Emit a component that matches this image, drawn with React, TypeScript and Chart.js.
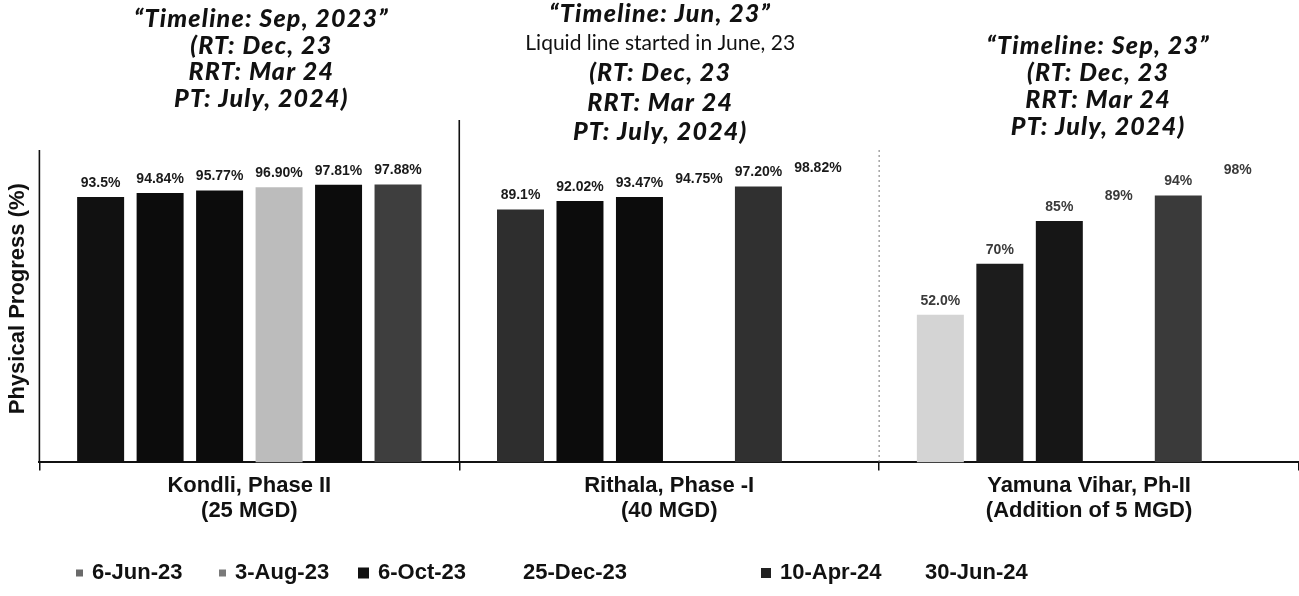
import React, { useEffect, useRef } from "react";
import { Chart, registerables } from "chart.js";

Chart.register(...registerables);

// ---------- data ----------
const CATEGORIES: string[][] = [
  ["Kondli, Phase II", "(25 MGD)"],
  ["Rithala, Phase -I", "(40 MGD)"],
  ["Yamuna Vihar, Ph-II", "(Addition of 5 MGD)"],
];
const SERIES_NAMES = ["6-Jun-23", "3-Aug-23", "6-Oct-23", "25-Dec-23", "10-Apr-24", "30-Jun-24"];

const JUN_23 = [93.5, 89.1, 52.0];
const AUG_23 = [94.84, 92.02, 70];
const OCT_23 = [95.77, 93.47, 85];
const DEC_23 = [96.9, 94.75, 89];
const APR_24 = [97.81, 97.2, 94];
const JUN_24 = [97.88, 98.82, 98];
const SERIES_VALUES = [JUN_23, AUG_23, OCT_23, DEC_23, APR_24, JUN_24];

const LABELS_JUN_23 = ["93.5%", "89.1%", "52.0%"];
const LABELS_AUG_23 = ["94.84%", "92.02%", "70%"];
const LABELS_OCT_23 = ["95.77%", "93.47%", "85%"];
const LABELS_DEC_23 = ["96.90%", "94.75%", "89%"];
const LABELS_APR_24 = ["97.81%", "97.20%", "94%"];
const LABELS_JUN_24 = ["97.88%", "98.82%", "98%"];
const VALUE_LABELS = [LABELS_JUN_23, LABELS_AUG_23, LABELS_OCT_23, LABELS_DEC_23, LABELS_APR_24, LABELS_JUN_24];

const TITLE_KONDLI = ["\u201CTimeline: Sep, 2023\u201D", "(RT: Dec, 23", "RRT: Mar 24", "PT: July, 2024)"];
const TITLE_RITHALA = ["\u201CTimeline: Jun, 23\u201D", "Liquid line started in June, 23", "(RT: Dec, 23", "RRT: Mar 24", "PT: July, 2024)"];
const TITLE_YAMUNA = ["\u201CTimeline: Sep, 23\u201D", "(RT: Dec, 23", "RRT: Mar 24", "PT: July, 2024)"];
const TITLES = [TITLE_KONDLI, TITLE_RITHALA, TITLE_YAMUNA];
const PLAIN_TITLE_LINE = "Liquid line started in June, 23";

const Y_TITLE = "Physical Progress (%)";

// ---------- styles ----------
const CLEAR = "rgba(0,0,0,0)";
const BAR_COLORS = [
  ["#111111", "#2e2e2e", "#d4d4d4"],
  ["#0c0c0c", "#0c0c0c", "#1c1c1c"],
  ["#0c0c0c", "#0c0c0c", "#161616"],
  ["#bcbcbc", CLEAR, CLEAR],
  ["#0c0c0c", "#303030", "#3a3a3a"],
  ["#3e3e3e", CLEAR, CLEAR],
];
const LEGEND_MARKERS = [
  { size: 7, color: "#6a6a6a" },
  { size: 7, color: "#7a7a7a" },
  { size: 11, color: "#111111" },
  { size: 0, color: CLEAR },
  { size: 10, color: "#222222" },
  { size: 0, color: CLEAR },
];
const LEGEND_TEXT_X = [92, 235, 378, 523, 780, 925];
const TITLE_LAYOUT = [
  { dx: 12, y0: 19, step: 26.5 },
  { dx: -9, y0: 14, step: 29.5 },
  { dx: 9, y0: 46, step: 27 },
];

const annotate = {
  id: "annotate",
  afterDraw(chart: any) {
    const ctx = chart.ctx as CanvasRenderingContext2D & { letterSpacing?: string };
    const xs = chart.scales.x;
    const { top, bottom, left, right } = chart.chartArea;
    const n = CATEGORIES.length;
    const cw = (right - left) / n;
    ctx.save();

    // separators / left axis line
    ctx.strokeStyle = "#111";
    ctx.lineWidth = 1.6;
    ctx.beginPath();
    ctx.moveTo(left, top + 15);
    ctx.lineTo(left, bottom);
    ctx.moveTo(left + cw, top - 15);
    ctx.lineTo(left + cw, bottom);
    ctx.stroke();
    ctx.strokeStyle = "#777";
    ctx.lineWidth = 1;
    ctx.setLineDash([2, 3]);
    ctx.beginPath();
    ctx.moveTo(left + 2 * cw, top + 15);
    ctx.lineTo(left + 2 * cw, bottom);
    ctx.stroke();
    ctx.setLineDash([]);

    // value labels
    ctx.font = "bold 14px 'Liberation Sans', Arial, sans-serif";
    ctx.textAlign = "center";
    ctx.textBaseline = "alphabetic";
    chart.data.datasets.forEach((_ds: any, di: number) => {
      const meta = chart.getDatasetMeta(di);
      meta.data.forEach((bar: any, i: number) => {
        ctx.fillStyle = i === 2 ? "#3a3a3a" : "#1a1a1a";
        ctx.fillText(VALUE_LABELS[di][i], bar.x, bar.y - 10);
      });
    });

    // block titles
    ctx.fillStyle = "#111";
    ctx.textBaseline = "middle";
    TITLES.forEach((lines, ci) => {
      const lay = TITLE_LAYOUT[ci];
      const cx = xs.getPixelForValue(ci) + lay.dx;
      lines.forEach((line, li) => {
        if (line === PLAIN_TITLE_LINE) {
          ctx.font = "21px Lato, 'Open Sans', sans-serif";
          ctx.letterSpacing = "0px";
        } else {
          ctx.font = "italic 900 25px Lato, 'Open Sans', sans-serif";
          ctx.letterSpacing = "1.2px";
        }
        ctx.fillText(line, cx, lay.y0 + li * lay.step);
      });
    });
    ctx.letterSpacing = "0px";

    // legend
    ctx.font = "bold 22px 'Liberation Sans', Arial, sans-serif";
    ctx.textAlign = "left";
    ctx.textBaseline = "middle";
    const ly = 573;
    SERIES_NAMES.forEach((name, si) => {
      const m = LEGEND_MARKERS[si];
      const tx = LEGEND_TEXT_X[si];
      if (m.size > 0) {
        ctx.fillStyle = m.color;
        ctx.fillRect(tx - 9 - m.size, ly - m.size / 2, m.size, m.size);
      }
      ctx.fillStyle = "#111";
      ctx.fillText(name, tx, ly);
    });
    ctx.restore();
  },
};

export default function App() {
  const ref = useRef<HTMLCanvasElement | null>(null);
  useEffect(() => {
    document.body.style.margin = "0";
    const canvas = ref.current!;
    const chart = new Chart(canvas, {
      type: "bar",
      data: {
        labels: CATEGORIES,
        datasets: SERIES_VALUES.map((vals, si) => ({
          label: SERIES_NAMES[si],
          data: vals,
          backgroundColor: BAR_COLORS[si],
          borderWidth: 0,
          categoryPercentage: 0.85,
          barPercentage: 0.79,
        })),
      },
      options: {
        responsive: false,
        animation: false,
        events: [],
        layout: { padding: { top: 135, right: 0, bottom: 69, left: 0 } },
        plugins: {
          legend: { display: false },
          tooltip: { enabled: false },
          title: { display: false },
        },
        scales: {
          x: {
            grid: {
              display: true,
              drawOnChartArea: false,
              drawTicks: true,
              tickLength: 8,
              color: "#111",
              lineWidth: 1.5,
            },
            border: { display: true, color: "#111", width: 2 },
            ticks: {
              color: "#111",
              padding: 3,
              maxRotation: 0,
              autoSkip: false,
              font: { family: "'Liberation Sans', Arial, sans-serif", size: 22, weight: "bold", lineHeight: 1.15 },
            },
          },
          y: {
            min: 0,
            max: 115.3,
            grid: { display: false },
            border: { display: false },
            ticks: { display: false },
            title: {
              display: true,
              text: Y_TITLE,
              color: "#111",
              padding: { top: 5, bottom: 0 },
              font: { family: "'Liberation Sans', Arial, sans-serif", size: 22, weight: "bold" },
            },
          },
        },
      },
      plugins: [annotate],
    });
    return () => chart.destroy();
  }, []);
  return (
    <div style={{ width: 1299, height: 596 }}>
      <canvas ref={ref} width={1299} height={596} style={{ display: "block" }} />
    </div>
  );
}
